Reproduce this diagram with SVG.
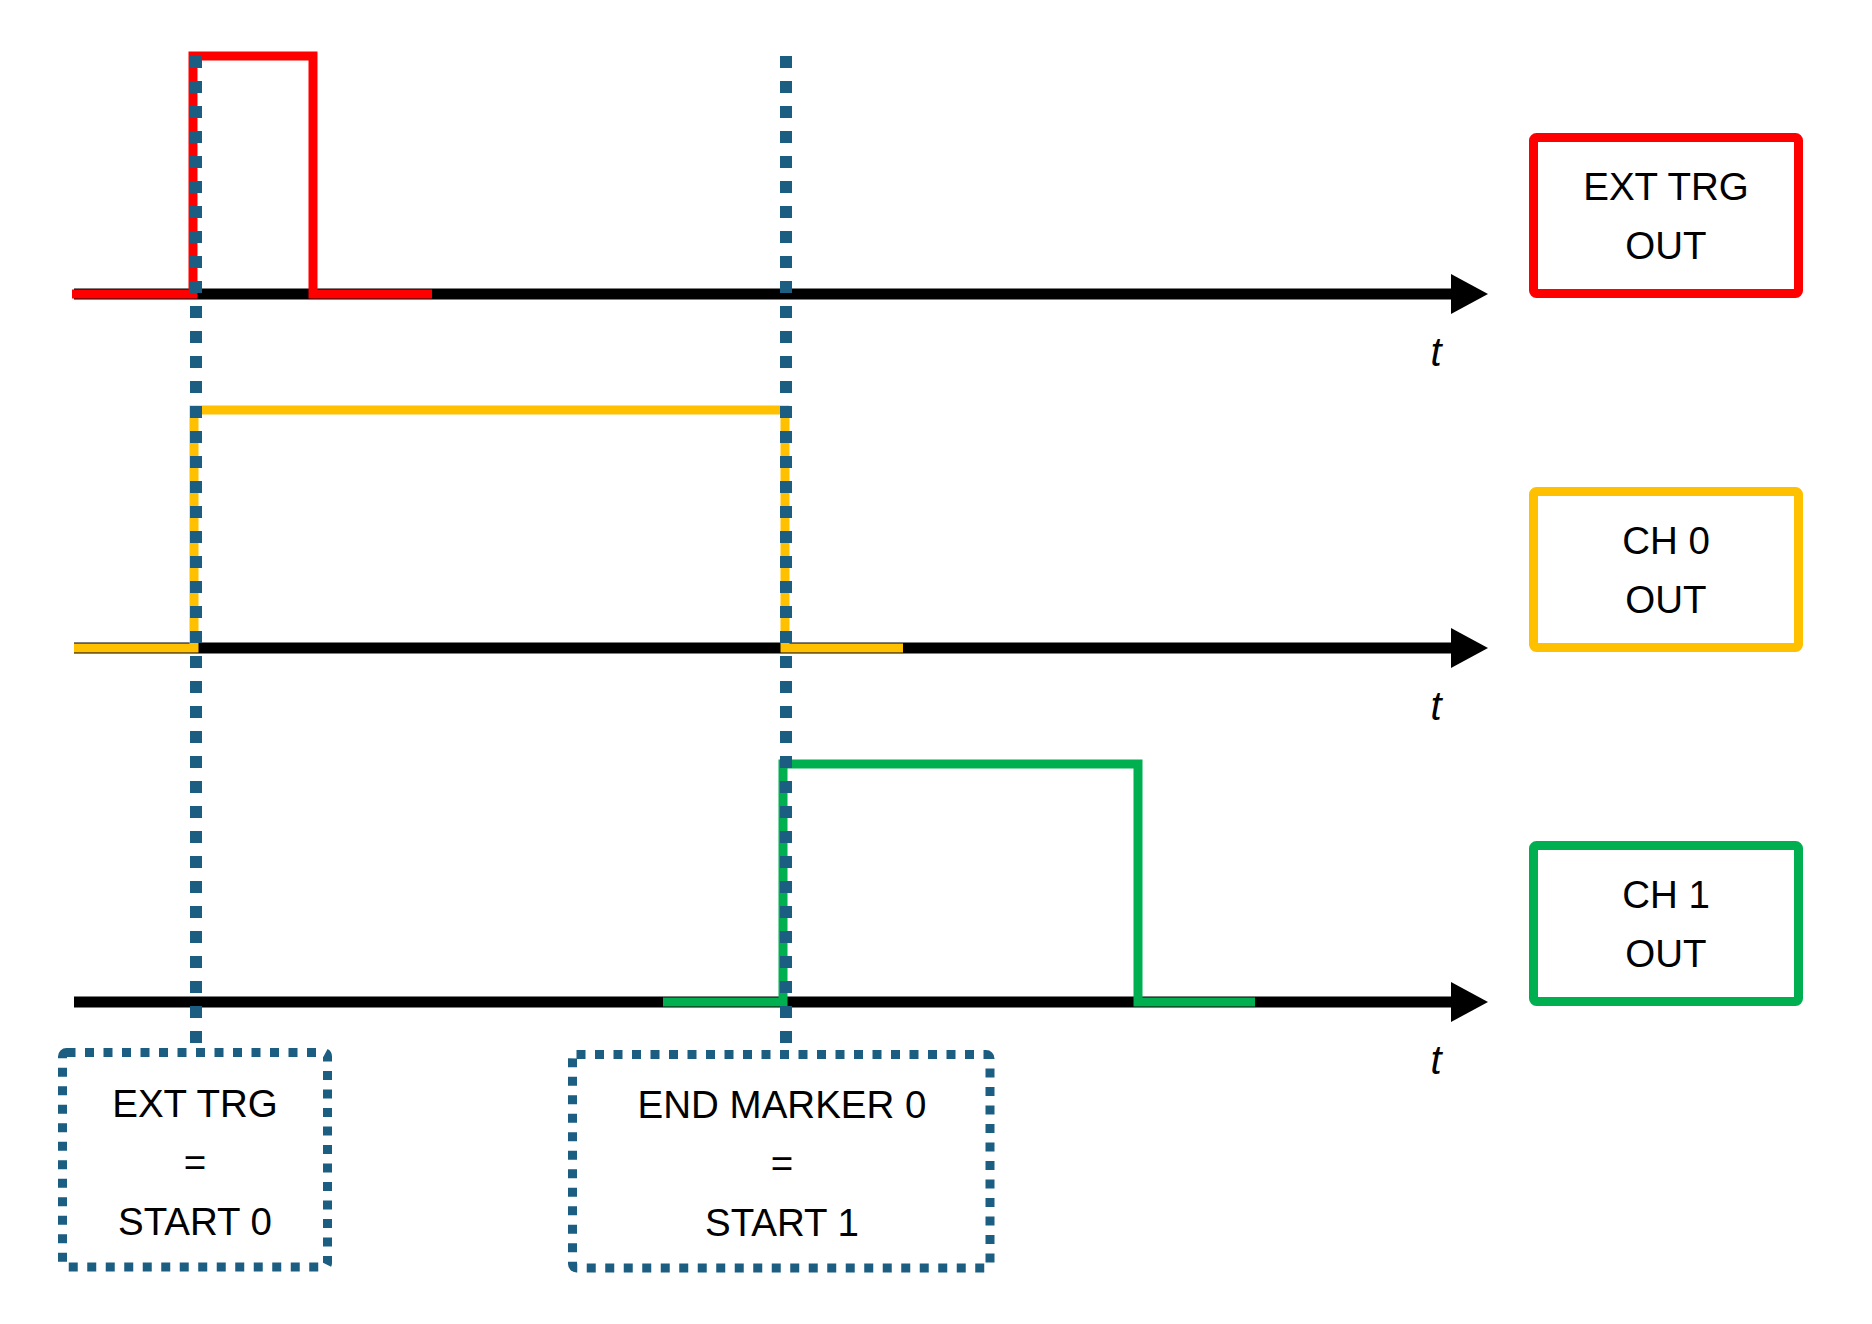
<svg xmlns="http://www.w3.org/2000/svg" width="1872" height="1324" viewBox="0 0 1872 1324">
  <style>
    .axis { stroke: #000; stroke-width: 11; fill: none; }
    .sig { fill: none; stroke-width: 9; stroke-linejoin: miter; stroke-linecap: butt; }
    .marker-line { stroke: #1B5E82; stroke-width: 12; stroke-dasharray: 12 13; fill: none; }
    .note { fill: #fff; stroke: #1B5E82; stroke-width: 9; stroke-dasharray: 9 9.5; }
    .label-box { fill: #fff; stroke-width: 9; }
    .lbl { font-family: "Liberation Sans", Arial, sans-serif; font-size: 38.5px; fill: #000; text-anchor: middle; }
    .t { font-family: "Liberation Sans", Arial, sans-serif; font-size: 40px; font-style: italic; fill: #000; text-anchor: middle; }
  </style>
  <defs>
    <marker id="arrow" markerUnits="userSpaceOnUse" markerWidth="40" markerHeight="40" refX="0" refY="20" orient="auto">
      <path d="M0,0 L37,20 L0,40 Z" fill="#000"/>
    </marker>
  </defs>
  <rect width="1872" height="1324" fill="#fff"/>

  <!-- time axes -->
  <g id="axes">
    <line class="axis" x1="74" y1="294" x2="1451" y2="294" marker-end="url(#arrow)"/>
    <line class="axis" x1="74" y1="648" x2="1451" y2="648" marker-end="url(#arrow)"/>
    <line class="axis" x1="74" y1="1002" x2="1451" y2="1002" marker-end="url(#arrow)"/>
    <text class="t" x="1436" y="366">t</text>
    <text class="t" x="1436" y="720">t</text>
    <text class="t" x="1436" y="1074">t</text>
  </g>

  <!-- signal traces -->
  <g id="signals">
    <path id="sig-ext-trg" class="sig" stroke="#FF0000" d="M72,294 H193 V56 H313 V294 H432"/>
    <path id="sig-ch0" class="sig" stroke="#FFC000" stroke-width="8" d="M74,648 H194 V410 H785 V648 H903"/>
    <path id="sig-ch1" class="sig" stroke="#00B050" stroke-width="8" d="M663,1002 H783 V764 H1138 V1002 H1255"/>
  </g>

  <!-- event marker lines -->
  <g id="connectors">
    <line class="marker-line" x1="196" y1="56" x2="196" y2="1044"/>
    <line class="marker-line" x1="786" y1="56" x2="786" y2="1044"/>
  </g>

  <!-- output labels -->
  <g id="box-ext-trg-out">
    <rect class="label-box" stroke="#FF0000" x="1533.5" y="137.5" width="265" height="156" rx="3"/>
    <text class="lbl" x="1666" y="200">EXT TRG</text>
    <text class="lbl" x="1666" y="259">OUT</text>
  </g>
  <g id="box-ch0-out">
    <rect class="label-box" stroke="#FFC000" x="1533.5" y="491.5" width="265" height="156" rx="3"/>
    <text class="lbl" x="1666" y="554">CH 0</text>
    <text class="lbl" x="1666" y="613">OUT</text>
  </g>
  <g id="box-ch1-out">
    <rect class="label-box" stroke="#00B050" x="1533.5" y="845.5" width="265" height="156" rx="3"/>
    <text class="lbl" x="1666" y="908">CH 1</text>
    <text class="lbl" x="1666" y="967">OUT</text>
  </g>

  <!-- event notes -->
  <g id="note-start0">
    <rect class="note" x="62.5" y="1052.5" width="265" height="214.5" rx="4"/>
    <text class="lbl" x="195" y="1117">EXT TRG</text>
    <text class="lbl" x="195" y="1176">=</text>
    <text class="lbl" x="195" y="1235">START 0</text>
  </g>
  <g id="note-start1">
    <rect class="note" x="572.5" y="1054.5" width="417.5" height="213.5" rx="4"/>
    <text class="lbl" x="782" y="1118">END MARKER 0</text>
    <text class="lbl" x="782" y="1177">=</text>
    <text class="lbl" x="782" y="1236">START 1</text>
  </g>
</svg>
